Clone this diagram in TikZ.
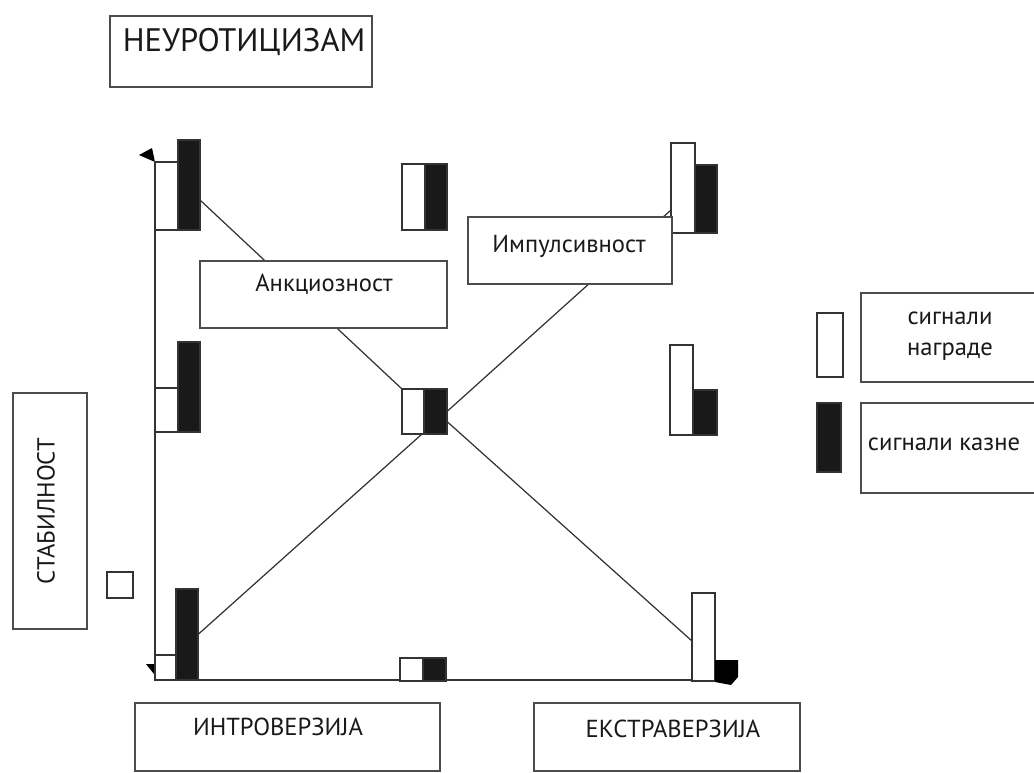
\documentclass[tikz,border=0pt]{standalone}
\usepackage{fontspec}
\setmainfont{PT Sans}
\usepackage{tikz}

\begin{document}
\begin{tikzpicture}[x=0.02cm, y=-0.02cm, line width=0.7pt,
    wbar/.style={draw=black!80, fill=white, inner sep=0pt, outer sep=0pt, anchor=south west},
    bbar/.style={wbar, fill=black!90},
    box/.style={draw=black!70, fill=white, inner sep=0pt, outer sep=0pt},
    txt/.style={font=\fontsize{14}{17.5}\selectfont, text=black!90}]

      \useasboundingbox (0,0) rectangle (1034,772);

      % axes
      \coordinate (ytop) at (155,162);
      \coordinate (o) at (155,680);
      \coordinate (xend) at (715,680);
      \draw[black!80] (ytop) -- (o) -- (xend);
      \fill[shift={(ytop)}] (0,0) -- (-16,-7) -- (-3,-14) -- cycle;
      \fill[shift={(o)}] (-9,-16) -- (0,-16) -- (-1,-6) -- cycle;

      % signal bars
      \foreach \n/\x/\y/\w/\h in {tlW/155/230/23/68, mlW/155/432/23/44, blW/155/680/21/25,
          tcW/402/230/23/66, ccW/402/434/22/45, bcW/400/681/23/23,
          trW/671/233/24/90, mrW/670/435/23/90, brW/692/681/23/88,
          lgW/817/377/26/64, sq/107/598/26/26}{
        \node[wbar, minimum width=\w*0.02cm, minimum height=\h*0.02cm] (\n) at (\x,\y) {};
      }
      \foreach \n/\x/\y/\w/\h in {tlB/178/230/22/90, mlB/178/432/22/90, blB/176/680/22/91,
          tcB/425/230/22/66, ccB/424/434/23/45, bcB/423/681/23/23,
          trB/695/233/22/68, mrB/693/435/24/45, lgB/817/472/24/69}{
        \node[bbar, minimum width=\w*0.02cm, minimum height=\h*0.02cm] (\n) at (\x,\y) {};
      }
      \fill[shift={(xend)}] (0,-20) -- (23,-20) -- (23,-3) -- (16,5) -- (0,2) -- cycle;

      % connections
      \draw[black!80] ([yshift=-0.3cm]tlB.east) -- (ccW.north west);
      \draw[black!80] (ccB.east) -- ([yshift=-0.44cm]trW.west);
      \draw[black!80] ([yshift=-0.2cm]ccB.east) -- ([yshift=-0.08cm]brW.west);
      \draw[black!80] (blB.east) -- ([xshift=-0.04cm]ccW.south east);

      % labels
      \node[box, minimum width=262*0.02cm, minimum height=71*0.02cm] (neuro) at (241,51.5) {};
      \node[font=\fontsize{18.5}{21}\selectfont, text=black!90] (neurot) at (244,42) {НЕУРОТИЦИЗАМ};

      \node[box, minimum width=247*0.02cm, minimum height=67*0.02cm] (anx) at (323.5,294.5) {};
      \node[txt] (anxt) at (324,284) {Анкциозност};

      \node[box, minimum width=204*0.02cm, minimum height=67*0.02cm] (imp) at (570,250.5) {};
      \node[txt] (impt) at (569,246) {Импулсивност};

      \node[box, minimum width=179*0.02cm, minimum height=89*0.02cm] (rew) at (950.5,337.5) {};
      \node[txt, align=center] (rewt) at (950,336) {сигнали\\награде};

      \node[box, minimum width=179*0.02cm, minimum height=90*0.02cm] (pun) at (950.5,448) {};
      \node[txt] (punt) at (944,444) {сигнали казне};

      \node[box, minimum width=74*0.02cm, minimum height=236*0.02cm] (stab) at (50,511) {};
      \node[txt, rotate=90] (stabt) at (46,511) {СТАБИЛНОСТ};

      \node[box, minimum width=305*0.02cm, minimum height=68*0.02cm] (intro) at (287.5,737) {};
      \node[txt] (introt) at (278,727) {ИНТРОВЕРЗИЈА};

      \node[box, minimum width=266*0.02cm, minimum height=68*0.02cm] (extra) at (667,737) {};
      \node[txt] (extrat) at (673,729) {ЕКСТРАВЕРЗИЈА};
\end{tikzpicture}
\end{document}
